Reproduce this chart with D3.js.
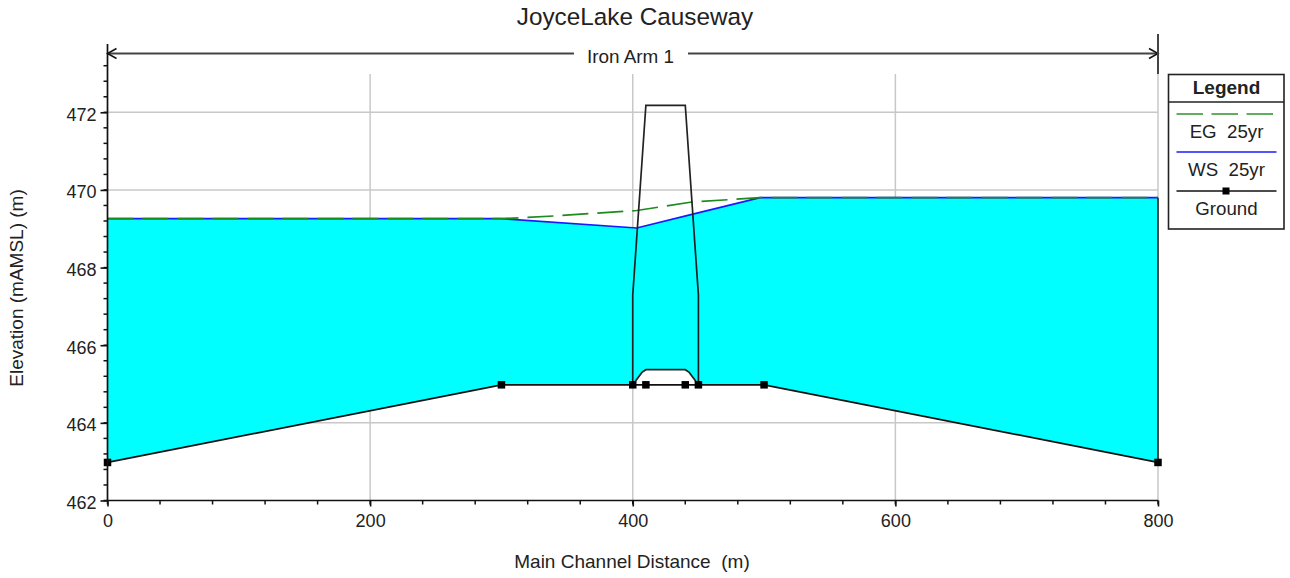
<!DOCTYPE html>
<html>
<head>
<meta charset="utf-8">
<script src="https://cdnjs.cloudflare.com/ajax/libs/d3/7.8.5/d3.min.js"></script>
<style>
  html, body { margin: 0; padding: 0; background: #fff; }
  svg { display: block; }
  text { font-family: "Liberation Sans", Arial, sans-serif; fill: #222; }
</style>
</head>
<body>
<div id="chart"></div>
<script>
const width = 1290;
const height = 578;

// Values
const xTicks = [0, 200, 400, 600, 800];
const yTicks = [462, 464, 466, 468, 470, 472];
const xMinorStep = 40;
const yMinorStep = 0.4;

const groundX = [0, 300, 400, 410, 440, 450, 500, 800];
const groundY = [462.98, 464.98, 464.98, 464.98, 464.98, 464.98, 464.98, 462.98];

const wsX = [0, 300, 403, 445, 497, 800];
const wsY = [469.26, 469.26, 469.02, 469.37, 469.8, 469.8];

const egX = [0, 300, 340, 403, 445, 497, 800];
const egY = [469.26, 469.26, 469.33, 469.47, 469.69, 469.8, 469.8];

// Causeway outline and the low chord under it
const deckX = [400, 400, 410, 440, 450, 450];
const deckY = [464.98, 467.29, 472.18, 472.18, 467.29, 464.98];
const chordX = [400, 407, 410, 440, 443, 450];
const chordY = [464.98, 465.3, 465.37, 465.37, 465.3, 464.98];

const legendLabels = ["EG  25yr", "WS  25yr", "Ground"];

const zip = (xs, ys) => xs.map((x, i) => [x, ys[i]]);
const ground = zip(groundX, groundY);
const ws = zip(wsX, wsY);
const eg = zip(egX, egY);
const deck = zip(deckX, deckY);
const chord = zip(chordX, chordY);

const svg = d3.select("#chart").append("svg").attr("width", width).attr("height", height);

const x = d3.scaleLinear().domain([0, 800]).range([107.5, 1158]);
const y = d3.scaleLinear().domain([462, 472]).range([500.5, 112.3]);
const gridTop = 74;
const axisTop = 44;

const line = d3.line().x((d) => x(d[0])).y((d) => y(d[1]));

// Grid
const grid = svg.append("g").attr("stroke", "#c8c8c8").attr("stroke-width", 1.5);
grid.selectAll(".gx").data(xTicks.slice(1)).join("line")
  .attr("x1", (d) => x(d)).attr("x2", (d) => x(d))
  .attr("y1", gridTop).attr("y2", y(462));
grid.selectAll(".gy").data(yTicks.slice(1)).join("line")
  .attr("x1", x(0)).attr("x2", x(800))
  .attr("y1", (d) => y(d)).attr("y2", (d) => y(d));

// Water between the water surface and the bed
const waterBed = ground.slice(0, 2).concat(chord, ground.slice(6));
svg.append("path")
  .attr("d", line(ws.concat(waterBed.slice().reverse())) + "Z")
  .attr("fill", "#00ffff");

// Profiles
const profile = (data, color, dash) => svg.append("path")
  .attr("d", line(data)).attr("fill", "none").attr("stroke", color)
  .attr("stroke-width", 1.7).attr("stroke-dasharray", dash || null);

profile(ws, "#1a1aff");
profile(eg, "#1f8a1f", "26 9");
profile(deck, "#222");
profile(chord, "#222");
profile(ground, "#111");

// Right edge over the water column
svg.append("line")
  .attr("x1", x(800)).attr("x2", x(800))
  .attr("y1", y(469.8)).attr("y2", y(463))
  .attr("stroke", "#222").attr("stroke-width", 1.6);

svg.selectAll(".pt").data(ground).join("rect")
  .attr("x", (d) => x(d[0]) - 3.75).attr("y", (d) => y(d[1]) - 3.75)
  .attr("width", 7.5).attr("height", 7.5).attr("fill", "#000");

// Axes
const xAxis = d3.axisBottom(x).tickValues(xTicks).tickSize(6).tickPadding(8).tickFormat(d3.format("d"));
const yAxis = d3.axisLeft(y).tickValues(yTicks).tickSize(7).tickPadding(4).tickFormat(d3.format("d"));

const gx = svg.append("g").attr("transform", `translate(0,${y(462)})`).call(xAxis);
const gy = svg.append("g").attr("transform", `translate(${x(0)},0)`).call(yAxis);
gx.select(".domain").remove();
gy.select(".domain").remove();
gx.selectAll("line").attr("stroke", "#111").attr("stroke-width", 1.6);
gy.selectAll("line").attr("stroke", "#111").attr("stroke-width", 1.6);
gx.selectAll("text").attr("font-size", 18);
gy.selectAll("text").attr("font-size", 18).attr("dy", "0.44em");

svg.append("line").attr("x1", x(0)).attr("x2", x(800)).attr("y1", y(462)).attr("y2", y(462))
  .attr("stroke", "#111").attr("stroke-width", 1.7);
svg.append("line").attr("x1", x(0)).attr("x2", x(0)).attr("y1", axisTop).attr("y2", y(462))
  .attr("stroke", "#111").attr("stroke-width", 1.7);

// Minor ticks
svg.append("g").attr("stroke", "#111").attr("stroke-width", 1.5)
  .selectAll("line").data(d3.range(0, 800 + 1, xMinorStep)).join("line")
  .attr("x1", (d) => x(d)).attr("x2", (d) => x(d))
  .attr("y1", y(462)).attr("y2", y(462) + 4);
const yMinor = d3.range(0, 29).map((i) => 462 + i * yMinorStep);
svg.append("g").attr("stroke", "#111").attr("stroke-width", 1.5)
  .selectAll("line").data(yMinor).join("line")
  .attr("x1", x(0) - 4).attr("x2", x(0))
  .attr("y1", (d) => y(d)).attr("y2", (d) => y(d));

// Reach arrow
const arrowY = 53.5;
const arrow = svg.append("g").attr("stroke", "#444").attr("fill", "none");
arrow.append("line").attr("x1", x(0)).attr("x2", 574).attr("y1", arrowY).attr("y2", arrowY).attr("stroke-width", 2);
arrow.append("line").attr("x1", 688).attr("x2", x(800)).attr("y1", arrowY).attr("y2", arrowY).attr("stroke-width", 2);
arrow.append("path").attr("d", `M${x(0) + 9},${arrowY - 5}L${x(0)},${arrowY}L${x(0) + 9},${arrowY + 5}`).attr("stroke", "#111").attr("stroke-width", 1.5);
arrow.append("path").attr("d", `M${x(800) - 9},${arrowY - 5}L${x(800)},${arrowY}L${x(800) - 9},${arrowY + 5}`).attr("stroke", "#111").attr("stroke-width", 1.5);
arrow.append("line").attr("x1", x(800)).attr("x2", x(800)).attr("y1", 34).attr("y2", gridTop).attr("stroke-width", 2);

// Titles
svg.append("text").attr("x", 635).attr("y", 25).attr("text-anchor", "middle").attr("font-size", 24.3).text("JoyceLake Causeway");
svg.append("text").attr("x", 630.5).attr("y", 63).attr("text-anchor", "middle").attr("font-size", 18.9).text("Iron Arm 1");
svg.append("text").attr("x", 632).attr("y", 568).attr("text-anchor", "middle").attr("font-size", 19).attr("xml:space", "preserve").text("Main Channel Distance  (m)");
svg.append("text").attr("transform", "translate(23,288) rotate(-90)").attr("text-anchor", "middle").attr("font-size", 19).text("Elevation (mAMSL) (m)");

// Legend
const legend = svg.append("g").attr("transform", "translate(1168.5,74.5)");
legend.append("rect").attr("width", 115.5).attr("height", 154.5).attr("fill", "#fff").attr("stroke", "#222").attr("stroke-width", 1.6);
legend.append("line").attr("x1", 0).attr("x2", 115.5).attr("y1", 27.5).attr("y2", 27.5).attr("stroke", "#222").attr("stroke-width", 1.6);
legend.append("text").attr("x", 58).attr("y", 19).attr("text-anchor", "middle").attr("font-size", 19).attr("font-weight", "bold").text("Legend");
const legendY = [39.5, 77.5, 116.5];
const legendColor = ["#2e942e", "#1a1aff", "#111"];
legend.selectAll(".l").data(legendLabels).join("line")
  .attr("x1", 8).attr("x2", 108)
  .attr("y1", (d, i) => legendY[i]).attr("y2", (d, i) => legendY[i])
  .attr("stroke", (d, i) => legendColor[i]).attr("stroke-width", 1.6)
  .attr("stroke-dasharray", (d, i) => (i === 0 ? "26.5 8.5" : null));
legend.append("rect").attr("x", 54).attr("y", legendY[2] - 3.5).attr("width", 7).attr("height", 7).attr("fill", "#000");
legend.selectAll(".t").data(legendLabels).join("text")
  .attr("x", 58).attr("y", (d, i) => legendY[i] + 24)
  .attr("text-anchor", "middle").attr("font-size", 18.7).attr("xml:space", "preserve")
  .text((d) => d);
</script>
</body>
</html>
